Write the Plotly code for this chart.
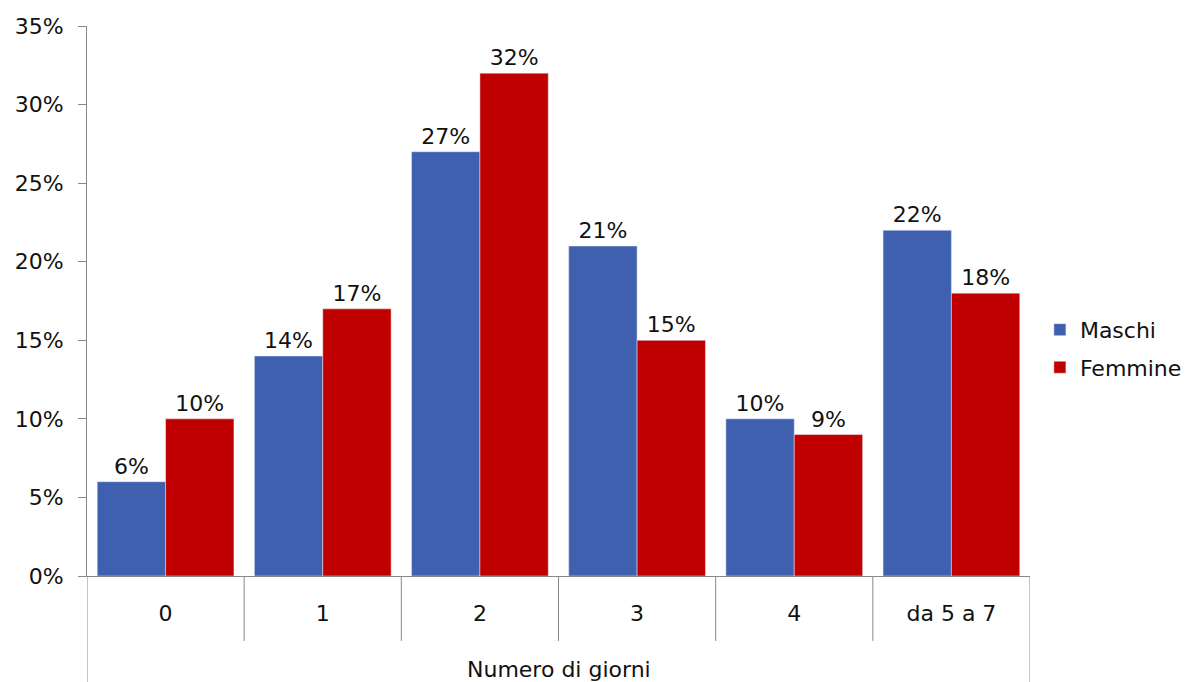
import plotly.graph_objects as go

categories = ["0", "1", "2", "3", "4", "da 5 a 7"]
maschi = [6, 14, 27, 21, 10, 22]
femmine = [10, 17, 32, 15, 9, 18]
y_ticks = [0, 5, 10, 15, 20, 25, 30, 35]
y_ticklabels = [f"{v}%" for v in y_ticks]
x_title = "Numero di giorni"

FONT = "DejaVu Sans"
AXIS = "#888888"
FS = 22

fig = go.Figure()
fig.add_trace(go.Bar(name="Maschi", x=categories, y=maschi, marker_color="#3F60AF",
                     legendgroup="m",
                     text=[f"{v}%" for v in maschi], textposition="outside",
                     textfont=dict(size=FS, color="#111111", family=FONT), cliponaxis=False))
fig.add_trace(go.Bar(name="Femmine", x=categories, y=femmine, marker_color="#C00000",
                     legendgroup="f",
                     text=[f"{v}%" for v in femmine], textposition="outside",
                     textfont=dict(size=FS, color="#111111", family=FONT), cliponaxis=False))

shapes = []
for i in range(len(categories) + 1):
    xpos = i - 0.5
    outer = i == 0 or i == len(categories)
    shapes.append(dict(type="line", xref="x", yref="paper", x0=xpos, x1=xpos,
                       y0=0, y1=-0.2 if outer else -0.118,
                       line=dict(color=AXIS, width=1)))

fig.update_layout(
    width=1182, height=674,
    margin=dict(l=79, r=160, t=18, b=106, autoexpand=False),
    paper_bgcolor="white", plot_bgcolor="white",
    barmode="group", bargap=0.13, bargroupgap=0,
    font=dict(family=FONT, size=FS, color="#111111"),
    showlegend=True,
    legend=dict(x=1.0105, y=0.413, xanchor="left", yanchor="middle",
                font=dict(size=FS, family=FONT), itemwidth=30,
                traceorder="grouped", tracegroupgap=6),
    shapes=shapes,
    annotations=[dict(text=x_title, xref="paper", yref="paper", x=0.5, y=-0.17,
                      showarrow=False, font=dict(size=FS, family=FONT), yanchor="middle")],
)
fig.update_xaxes(type="category", range=[-0.5, 5.5], showline=True, linecolor=AXIS,
                 ticks="", showgrid=False, ticklabelstandoff=18, automargin=False,
                 tickfont=dict(size=FS, family=FONT))
fig.update_yaxes(range=[0, 35], tickvals=y_ticks, ticktext=y_ticklabels, showline=True,
                 linecolor=AXIS, ticks="outside", ticklen=8, tickcolor=AXIS, automargin=False,
                 ticklabelstandoff=10,
                 showgrid=False, zeroline=False, tickfont=dict(size=FS, family=FONT))

fig.write_html("out.html")
